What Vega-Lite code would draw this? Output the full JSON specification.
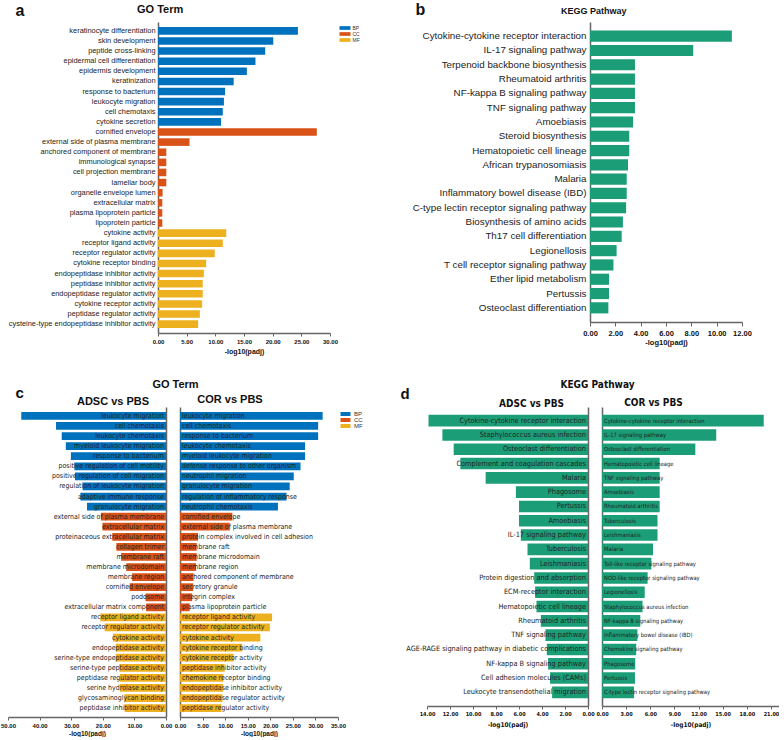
{
  "$schema": "https://vega.github.io/schema/vega-lite/v6.json",
  "padding": {"top": 1, "left": 0, "right": 0, "bottom": 0},
  "config": {
    "font": "Liberation Sans",
    "view": {"stroke": null},
    "axis": {"grid": false, "labelOverlap": false, "labelFlush": false, "domainColor": "#666", "tickColor": "#666", "labelColor": "#111", "titleColor": "#111"},
    "title": {"font": "Liberation Sans", "fontWeight": "bold", "color": "#111"}
  },
  "datasets": {
    "goA": [
      {"term": "keratinocyte differentiation", "v": 24.4, "cat": "BP"},
      {"term": "skin development", "v": 20.1, "cat": "BP"},
      {"term": "peptide cross-linking", "v": 18.7, "cat": "BP"},
      {"term": "epidermal cell differentiation", "v": 17.0, "cat": "BP"},
      {"term": "epidermis development", "v": 15.5, "cat": "BP"},
      {"term": "keratinization", "v": 13.2, "cat": "BP"},
      {"term": "response to bacterium", "v": 11.7, "cat": "BP"},
      {"term": "leukocyte migration", "v": 11.5, "cat": "BP"},
      {"term": "cell chemotaxis", "v": 11.3, "cat": "BP"},
      {"term": "cytokine secretion", "v": 11.0, "cat": "BP"},
      {"term": "cornified envelope", "v": 27.7, "cat": "CC"},
      {"term": "external side of plasma membrane", "v": 5.5, "cat": "CC"},
      {"term": "anchored component of membrane", "v": 1.45, "cat": "CC"},
      {"term": "immunological synapse", "v": 1.45, "cat": "CC"},
      {"term": "cell projection membrane", "v": 1.45, "cat": "CC"},
      {"term": "lamellar body", "v": 1.45, "cat": "CC"},
      {"term": "organelle envelope lumen", "v": 0.8, "cat": "CC"},
      {"term": "extracellular matrix", "v": 0.75, "cat": "CC"},
      {"term": "plasma lipoprotein particle", "v": 0.75, "cat": "CC"},
      {"term": "lipoprotein particle", "v": 0.75, "cat": "CC"},
      {"term": "cytokine activity", "v": 11.9, "cat": "MF"},
      {"term": "receptor ligand activity", "v": 11.3, "cat": "MF"},
      {"term": "receptor regulator activity", "v": 9.9, "cat": "MF"},
      {"term": "cytokine receptor binding", "v": 8.4, "cat": "MF"},
      {"term": "endopeptidase inhibitor activity", "v": 8.0, "cat": "MF"},
      {"term": "peptidase inhibitor activity", "v": 7.8, "cat": "MF"},
      {"term": "endopeptidase regulator activity", "v": 7.8, "cat": "MF"},
      {"term": "cytokine receptor activity", "v": 7.7, "cat": "MF"},
      {"term": "peptidase regulator activity", "v": 7.3, "cat": "MF"},
      {"term": "cysteine-type endopeptidase inhibitor activity", "v": 7.0, "cat": "MF"}
    ],
    "keggB": [
      {"term": "Cytokine-cytokine receptor interaction", "v": 11.2},
      {"term": "IL-17 signaling pathway", "v": 8.15},
      {"term": "Terpenoid backbone biosynthesis", "v": 3.55},
      {"term": "Rheumatoid arthritis", "v": 3.55},
      {"term": "NF-kappa B signaling pathway", "v": 3.55},
      {"term": "TNF signaling pathway", "v": 3.55},
      {"term": "Amoebiasis", "v": 3.4},
      {"term": "Steroid biosynthesis", "v": 3.1},
      {"term": "Hematopoietic cell lineage", "v": 3.1},
      {"term": "African trypanosomiasis", "v": 3.0},
      {"term": "Malaria", "v": 2.9},
      {"term": "Inflammatory bowel disease (IBD)", "v": 2.9},
      {"term": "C-type lectin receptor signaling pathway", "v": 2.85},
      {"term": "Biosynthesis of amino acids", "v": 2.6},
      {"term": "Th17 cell differentiation", "v": 2.5},
      {"term": "Legionellosis", "v": 2.1},
      {"term": "T cell receptor signaling pathway", "v": 1.85},
      {"term": "Ether lipid metabolism", "v": 1.5},
      {"term": "Pertussis", "v": 1.5},
      {"term": "Osteoclast differentiation", "v": 1.45}
    ],
    "goCL": [
      {"term": "leukocyte migration", "v": 45.8, "cat": "BP"},
      {"term": "cell chemotaxis", "v": 34.8, "cat": "BP"},
      {"term": "leukocyte chemotaxis", "v": 33.0, "cat": "BP"},
      {"term": "myeloid leukocyte migration", "v": 31.7, "cat": "BP"},
      {"term": "response to bacterium", "v": 30.1, "cat": "BP"},
      {"term": "positive regulation of cell motility", "v": 29.0, "cat": "BP"},
      {"term": "positive regulation of cell migration", "v": 28.8, "cat": "BP"},
      {"term": "regulation of leukocyte migration", "v": 26.4, "cat": "BP"},
      {"term": "adaptive immune response", "v": 27.1, "cat": "BP"},
      {"term": "granulocyte migration", "v": 25.0, "cat": "BP"},
      {"term": "external side of plasma membrane", "v": 20.6, "cat": "CC"},
      {"term": "extracellular matrix", "v": 20.1, "cat": "CC"},
      {"term": "proteinaceous extracellular matrix", "v": 17.0, "cat": "CC"},
      {"term": "collagen trimer", "v": 15.7, "cat": "CC"},
      {"term": "membrane raft", "v": 14.2, "cat": "CC"},
      {"term": "membrane microdomain", "v": 12.6, "cat": "CC"},
      {"term": "membrane region", "v": 10.7, "cat": "CC"},
      {"term": "cornified envelope", "v": 11.5, "cat": "CC"},
      {"term": "podosome", "v": 6.5, "cat": "CC"},
      {"term": "extracellular matrix component", "v": 6.3, "cat": "CC"},
      {"term": "receptor ligand activity", "v": 20.8, "cat": "MF"},
      {"term": "receptor regulator activity", "v": 19.4, "cat": "MF"},
      {"term": "cytokine activity", "v": 16.8, "cat": "MF"},
      {"term": "endopeptidase activity", "v": 15.9, "cat": "MF"},
      {"term": "serine-type endopeptidase activity", "v": 15.9, "cat": "MF"},
      {"term": "serine-type peptidase activity", "v": 14.8, "cat": "MF"},
      {"term": "peptidase regulator activity", "v": 14.6, "cat": "MF"},
      {"term": "serine hydrolase activity", "v": 14.6, "cat": "MF"},
      {"term": "glycosaminoglycan binding", "v": 13.2, "cat": "MF"},
      {"term": "peptidase inhibitor activity", "v": 13.1, "cat": "MF"}
    ],
    "goCR": [
      {"term": "leukocyte migration", "v": 31.6, "cat": "BP"},
      {"term": "cell chemotaxis", "v": 30.6, "cat": "BP"},
      {"term": "response to bacterium", "v": 30.6, "cat": "BP"},
      {"term": "leukocyte chemotaxis", "v": 27.7, "cat": "BP"},
      {"term": "myeloid leukocyte migration", "v": 27.7, "cat": "BP"},
      {"term": "defense response to other organism", "v": 26.7, "cat": "BP"},
      {"term": "neutrophil migration", "v": 25.2, "cat": "BP"},
      {"term": "granulocyte migration", "v": 24.3, "cat": "BP"},
      {"term": "regulation of inflammatory response", "v": 23.6, "cat": "BP"},
      {"term": "neutrophil chemotaxis", "v": 21.7, "cat": "BP"},
      {"term": "cornified envelope", "v": 11.6, "cat": "CC"},
      {"term": "external side of plasma membrane", "v": 11.0, "cat": "CC"},
      {"term": "protein complex involved in cell adhesion", "v": 4.0, "cat": "CC"},
      {"term": "membrane raft", "v": 3.7, "cat": "CC"},
      {"term": "membrane microdomain", "v": 3.7, "cat": "CC"},
      {"term": "membrane region", "v": 3.55, "cat": "CC"},
      {"term": "anchored component of membrane", "v": 3.0, "cat": "CC"},
      {"term": "secretory granule", "v": 2.9, "cat": "CC"},
      {"term": "integrin complex", "v": 2.7, "cat": "CC"},
      {"term": "plasma lipoprotein particle", "v": 2.15, "cat": "CC"},
      {"term": "receptor ligand activity", "v": 20.4, "cat": "MF"},
      {"term": "receptor regulator activity", "v": 19.9, "cat": "MF"},
      {"term": "cytokine activity", "v": 17.8, "cat": "MF"},
      {"term": "cytokine receptor binding", "v": 13.8, "cat": "MF"},
      {"term": "cytokine receptor activity", "v": 11.9, "cat": "MF"},
      {"term": "peptidase inhibitor activity", "v": 9.9, "cat": "MF"},
      {"term": "chemokine receptor binding", "v": 9.6, "cat": "MF"},
      {"term": "endopeptidase inhibitor activity", "v": 9.55, "cat": "MF"},
      {"term": "endopeptidase regulator activity", "v": 9.4, "cat": "MF"},
      {"term": "peptidase regulator activity", "v": 9.2, "cat": "MF"}
    ],
    "keggDL": [
      {"term": "Cytokine-cytokine receptor interaction", "v": 13.87},
      {"term": "Staphylococcus aureus infection", "v": 12.66},
      {"term": "Osteoclast differentiation", "v": 11.68},
      {"term": "Complement and coagulation cascades", "v": 11.1},
      {"term": "Malaria", "v": 8.9},
      {"term": "Phagosome", "v": 6.27},
      {"term": "Pertussis", "v": 6.0},
      {"term": "Amoebiasis", "v": 6.0},
      {"term": "IL-17 signaling pathway", "v": 5.84},
      {"term": "Tuberculosis", "v": 5.26},
      {"term": "Leishmaniasis", "v": 5.06},
      {"term": "Protein digestion and absorption", "v": 4.68},
      {"term": "ECM-receptor interaction", "v": 4.6},
      {"term": "Hematopoietic cell lineage", "v": 4.48},
      {"term": "Rheumatoid arthritis", "v": 4.1},
      {"term": "TNF signaling pathway", "v": 3.7},
      {"term": "AGE-RAGE signaling pathway in diabetic complications", "v": 3.58},
      {"term": "NF-kappa B signaling pathway", "v": 3.47},
      {"term": "Cell adhesion molecules (CAMs)", "v": 3.3},
      {"term": "Leukocyte transendothelial migration", "v": 3.12}
    ],
    "keggDR": [
      {"term": "Cytokine-cytokine receptor interaction", "v": 20.1},
      {"term": "IL-17 signaling pathway", "v": 14.2},
      {"term": "Osteoclast differentiation", "v": 11.6},
      {"term": "Hematopoietic cell lineage", "v": 7.17},
      {"term": "TNF signaling pathway", "v": 7.17},
      {"term": "Amoebiasis", "v": 7.17},
      {"term": "Rheumatoid arthritis", "v": 7.17},
      {"term": "Tuberculosis", "v": 6.9},
      {"term": "Leishmaniasis", "v": 6.9},
      {"term": "Malaria", "v": 6.34},
      {"term": "Toll-like receptor signaling pathway", "v": 6.14},
      {"term": "NOD-like receptor signaling pathway", "v": 5.67},
      {"term": "Legionellosis", "v": 5.31},
      {"term": "Staphylococcus aureus infection", "v": 5.04},
      {"term": "NF-kappa B signaling pathway", "v": 4.76},
      {"term": "Inflammatory bowel disease (IBD)", "v": 4.4},
      {"term": "Chemokine signaling pathway", "v": 4.25},
      {"term": "Phagosome", "v": 4.13},
      {"term": "Pertussis", "v": 4.1},
      {"term": "C-type lectin receptor signaling pathway", "v": 3.98}
    ]
  },
  "spacing": 24,
  "resolve": {"scale": {"color": "independent"}, "legend": {"color": "independent"}},
  "vconcat": [
    {
      "bounds": "flush",
      "spacing": 10,
      "resolve": {"scale": {"color": "independent"}, "legend": {"color": "independent"}},
      "hconcat": [
        {"width": 140, "height": 10, "data": {"values": [{"s": 1}]}, "mark": {"type": "point", "opacity": 0}},
        {
          "width": 172, "height": 311,
          "data": {"name": "goA"},
          "title": {"text": "GO Term", "frame": "group", "anchor": "start", "dx": -21, "offset": -22, "baseline": "alphabetic", "fontSize": 11},
          "mark": {"type": "bar"},
          "encoding": {
            "y": {"field": "term", "type": "nominal", "sort": null,
              "scale": {"paddingInner": 0.25, "paddingOuter": 0.5},
              "axis": {"title": "a", "titleAngle": 0, "titleX": -143, "titleY": -7, "titleAlign": "left", "titleBaseline": "alphabetic", "titleFontSize": 16, "titleFontWeight": "bold",
                "labelFontSize": 7.4, "labelColor": "#222", "labelPadding": 3, "labelLimit": 0, "ticks": false, "domainWidth": 1.5}},
            "x": {"field": "v", "type": "quantitative", "scale": {"domain": [0, 30]},
              "axis": {"title": "-log10(padj)", "values": [0, 5, 10, 15, 20, 25, 30], "format": ".2f", "labelOverlap": false, "labelFontSize": 6, "labelFontWeight": "bold", "tickSize": 3, "domainWidth": 1.5, "labelPadding": 2, "titleFontSize": 7, "titleFontWeight": "bold", "titlePadding": 3}},
            "color": {"field": "cat", "type": "nominal",
              "scale": {"domain": ["BP", "CC", "MF"], "range": ["#0072BD", "#D95319", "#EDB120"]},
              "legend": {"title": null, "orient": "none", "legendX": 184, "legendY": 3, "symbolType": "M-2,-0.67H2V0.67H-2Z", "symbolSize": 30.25, "symbolStrokeWidth": 0, "labelFontSize": 5, "labelColor": "#333", "labelOffset": 4.5, "rowPadding": 0, "padding": 0}}
          }
        },
        {"width": 240, "height": 10, "data": {"values": [{"s": 1}]}, "mark": {"type": "point", "opacity": 0}},
        {
          "width": 152, "height": 300,
          "data": {"name": "keggB"},
          "title": {"text": "KEGG Pathway", "frame": "group", "anchor": "start", "dx": -29, "offset": -22, "baseline": "alphabetic", "fontSize": 9},
          "mark": {"type": "bar", "color": "#1B9E77"},
          "encoding": {
            "y": {"field": "term", "type": "nominal", "sort": null,
              "scale": {"paddingInner": 0.22, "paddingOuter": 0.6},
              "axis": {"title": "b", "titleAngle": 0, "titleX": -175, "titleY": -8, "titleAlign": "left", "titleBaseline": "alphabetic", "titleFontSize": 16, "titleFontWeight": "bold",
                "labelFontSize": 9.8, "labelColor": "#222", "labelPadding": 4, "labelLimit": 0, "ticks": false, "domainWidth": 1.5}},
            "x": {"field": "v", "type": "quantitative", "scale": {"domain": [0, 12]},
              "axis": {"title": "-log10(padj)", "values": [0, 2, 4, 6, 8, 10, 12], "format": ".2f", "labelOverlap": false, "labelFontSize": 7.5, "labelFontWeight": "bold", "tickSize": 4, "domainWidth": 1.5, "labelPadding": 3, "titleFontSize": 7.5, "titleFontWeight": "bold", "titlePadding": 2}}
          }
        }
      ]
    },
    {
      "bounds": "flush",
      "spacing": 14,
      "resolve": {"scale": {"color": "independent"}, "legend": {"color": "independent"}},
      "hconcat": [
        {
          "width": 158, "height": 310,
          "data": {"name": "goCL"},
          "title": {"text": "ADSC vs PBS", "frame": "group", "anchor": "middle", "dx": 26, "offset": -31, "baseline": "alphabetic", "fontSize": 11},
          "encoding": {
            "y": {"field": "term", "type": "nominal", "sort": null,
              "scale": {"paddingInner": 0.23, "paddingOuter": 0.5},
              "axis": {"orient": "right", "labels": false, "ticks": false, "domainWidth": 1.5, "title": "c", "titleAngle": 0, "titleX": -151, "titleY": -10, "titleAlign": "left", "titleBaseline": "alphabetic", "titleFontSize": 15, "titleFontWeight": "bold"}}
          },
          "layer": [
            {
              "mark": {"type": "bar"},
              "encoding": {
                "x": {"field": "v", "type": "quantitative", "scale": {"domain": [0, 50], "reverse": true},
                  "axis": {"title": "-log10(padj)", "values": [0, 10, 20, 30, 40, 50], "format": ".2f", "labelOverlap": false, "labelFontSize": 6, "labelFontWeight": "bold", "tickSize": 3, "domainWidth": 1.5, "labelPadding": 2, "titleFontSize": 6.5, "titleFontWeight": "bold", "titlePadding": 2}},
                "color": {"field": "cat", "type": "nominal",
                  "scale": {"domain": ["BP", "CC", "MF"], "range": ["#0072BD", "#D95319", "#EDB120"]}, "legend": null}
              }
            },
            {
              "mark": {"type": "text", "align": "right", "baseline": "middle", "dx": -2, "font": "DejaVu Sans Condensed", "fontSize": 7, "color": "#222"},
              "encoding": {
                "x": {"datum": 0, "type": "quantitative",
                  "axis": {"title": "-log10(padj)", "values": [0, 10, 20, 30, 40, 50], "format": ".2f", "labelOverlap": false, "labelFontSize": 6, "labelFontWeight": "bold", "tickSize": 3, "domainWidth": 1.5, "labelPadding": 2, "titleFontSize": 6.5, "titleFontWeight": "bold", "titlePadding": 2}},
                "text": {"field": "term"}}
            }
          ]
        },
        {
          "width": 158, "height": 310,
          "data": {"name": "goCR"},
          "title": {"text": "COR vs PBS", "frame": "group", "anchor": "middle", "dx": -29, "offset": -36, "baseline": "alphabetic", "fontSize": 11},
          "encoding": {
            "y": {"field": "term", "type": "nominal", "sort": null,
              "scale": {"paddingInner": 0.23, "paddingOuter": 0.5},
              "axis": {"orient": "left", "labels": false, "ticks": false, "domainWidth": 1.5, "title": "GO Term", "titleAngle": 0, "titleX": -5, "titleY": -20, "titleAlign": "center", "titleBaseline": "alphabetic", "titleFontSize": 11, "titleFontWeight": "bold"}}
          },
          "layer": [
            {
              "mark": {"type": "bar"},
              "encoding": {
                "x": {"field": "v", "type": "quantitative", "scale": {"domain": [0, 35]},
                  "axis": {"title": "-log10(padj)", "values": [0, 5, 10, 15, 20, 25, 30, 35], "format": ".2f", "labelOverlap": false, "labelFontSize": 6, "labelFontWeight": "bold", "tickSize": 3, "domainWidth": 1.5, "labelPadding": 2, "titleFontSize": 6.5, "titleFontWeight": "bold", "titlePadding": 2}},
                "color": {"field": "cat", "type": "nominal",
                  "scale": {"domain": ["BP", "CC", "MF"], "range": ["#0072BD", "#D95319", "#EDB120"]},
                  "legend": {"title": null, "orient": "none", "legendX": 162.5, "legendY": 4, "symbolType": "M-2,-0.8H2V0.8H-2Z", "symbolSize": 25, "symbolStrokeWidth": 0, "labelFontSize": 6, "labelColor": "#333", "labelOffset": 5.5, "rowPadding": 0, "padding": 0}}
              }
            },
            {
              "mark": {"type": "text", "align": "left", "baseline": "middle", "dx": 2, "font": "DejaVu Sans Condensed", "fontSize": 7, "color": "#222"},
              "encoding": {
                "x": {"datum": 0, "type": "quantitative",
                  "axis": {"title": "-log10(padj)", "values": [0, 5, 10, 15, 20, 25, 30, 35], "format": ".2f", "labelOverlap": false, "labelFontSize": 6, "labelFontWeight": "bold", "tickSize": 3, "domainWidth": 1.5, "labelPadding": 2, "titleFontSize": 6.5, "titleFontWeight": "bold", "titlePadding": 2}},
                "text": {"field": "term"}}
            }
          ]
        },
        {"width": 61, "height": 10, "data": {"values": [{"s": 1}]}, "mark": {"type": "point", "opacity": 0}},
        {
          "width": 161, "height": 299,
          "data": {"name": "keggDL"},
          "title": {"text": "ADSC vs PBS", "frame": "group", "anchor": "middle", "dx": 24, "offset": -31, "baseline": "alphabetic", "fontSize": 10, "font": "DejaVu Sans Condensed"},
          "encoding": {
            "y": {"field": "term", "type": "nominal", "sort": null,
              "scale": {"paddingInner": 0.19, "paddingOuter": 0.55},
              "axis": {"orient": "right", "labels": false, "ticks": false, "domainWidth": 1.5, "title": "d", "titleAngle": 0, "titleX": -188, "titleY": -9, "titleAlign": "left", "titleBaseline": "alphabetic", "titleFontSize": 15, "titleFontWeight": "bold"}}
          },
          "layer": [
            {
              "mark": {"type": "bar", "color": "#1B9E77"},
              "encoding": {
                "x": {"field": "v", "type": "quantitative", "scale": {"domain": [0, 14], "reverse": true},
                  "axis": {"title": "-log10(padj)", "values": [0, 2, 4, 6, 8, 10, 12, 14], "format": ".2f", "labelOverlap": false, "labelFontSize": 5.5, "labelFont": "DejaVu Sans Condensed", "labelFontWeight": "bold", "tickSize": 3, "domainWidth": 1.5, "labelPadding": 2, "titleFont": "DejaVu Sans Condensed", "titleFontSize": 6.5, "titleFontWeight": "bold", "titlePadding": 5}}
              }
            },
            {
              "mark": {"type": "text", "align": "right", "baseline": "middle", "dx": -2, "font": "DejaVu Sans Condensed", "fontSize": 7.3, "color": "#222"},
              "encoding": {
                "x": {"datum": 0, "type": "quantitative",
                  "axis": {"title": "-log10(padj)", "values": [0, 2, 4, 6, 8, 10, 12, 14], "format": ".2f", "labelOverlap": false, "labelFontSize": 5.5, "labelFont": "DejaVu Sans Condensed", "labelFontWeight": "bold", "tickSize": 3, "domainWidth": 1.5, "labelPadding": 2, "titleFont": "DejaVu Sans Condensed", "titleFontSize": 6.5, "titleFontWeight": "bold", "titlePadding": 5}},
                "text": {"field": "term"}}
            }
          ]
        },
        {
          "width": 177, "height": 299,
          "data": {"name": "keggDR"},
          "title": {"text": "COR vs PBS", "frame": "group", "anchor": "middle", "dx": -37, "offset": -37, "baseline": "alphabetic", "fontSize": 10, "font": "DejaVu Sans Condensed"},
          "encoding": {
            "y": {"field": "term", "type": "nominal", "sort": null,
              "scale": {"paddingInner": 0.19, "paddingOuter": 0.55},
              "axis": {"orient": "left", "labels": false, "ticks": false, "domainWidth": 1.5, "title": "KEGG Pathway", "titleAngle": 0, "titleX": -5, "titleY": -20, "titleAlign": "center", "titleBaseline": "alphabetic", "titleFont": "DejaVu Sans Condensed", "titleFontSize": 10, "titleFontWeight": "bold"}}
          },
          "layer": [
            {
              "mark": {"type": "bar", "color": "#1B9E77"},
              "encoding": {
                "x": {"field": "v", "type": "quantitative", "scale": {"domain": [0, 21]},
                  "axis": {"title": "-log10(padj)", "values": [0, 3, 6, 9, 12, 15, 18, 21], "format": ".2f", "labelOverlap": false, "labelFontSize": 5.5, "labelFont": "DejaVu Sans Condensed", "labelFontWeight": "bold", "tickSize": 3, "domainWidth": 1.5, "labelPadding": 2, "titleFont": "DejaVu Sans Condensed", "titleFontSize": 6.5, "titleFontWeight": "bold", "titlePadding": 5}}
              }
            },
            {
              "mark": {"type": "text", "align": "left", "baseline": "middle", "dx": 2, "font": "DejaVu Sans Condensed", "fontSize": 5.8, "color": "#222"},
              "encoding": {
                "x": {"datum": 0, "type": "quantitative",
                  "axis": {"title": "-log10(padj)", "values": [0, 3, 6, 9, 12, 15, 18, 21], "format": ".2f", "labelOverlap": false, "labelFontSize": 5.5, "labelFont": "DejaVu Sans Condensed", "labelFontWeight": "bold", "tickSize": 3, "domainWidth": 1.5, "labelPadding": 2, "titleFont": "DejaVu Sans Condensed", "titleFontSize": 6.5, "titleFontWeight": "bold", "titlePadding": 5}},
                "text": {"field": "term"}}
            }
          ]
        }
      ]
    }
  ]
}
